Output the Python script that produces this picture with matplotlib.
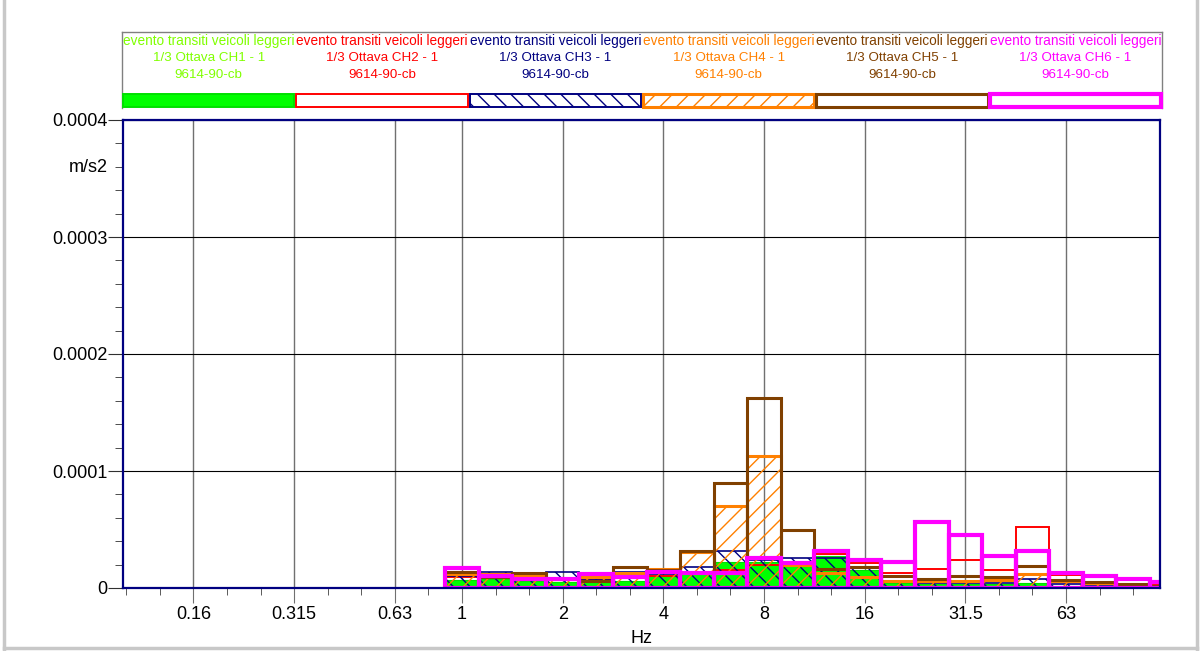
import numpy as np, matplotlib
matplotlib.use("Agg")
import matplotlib.pyplot as plt
from matplotlib.patches import Rectangle
from matplotlib.lines import Line2D

plt.rcParams["font.family"] = ["Liberation Sans", "DejaVu Sans"]
plt.rcParams["hatch.linewidth"] = 1.0

# 1/3 octave bands (index 0 = 1 Hz); values in m/s2 * 1e-6
bands = ["1", "1.25", "1.6", "2", "2.5", "3.15", "4", "5", "6.3", "8", "10",
         "12.5", "16", "20", "25", "31.5", "40", "50", "63", "80", "100", "125"]
ch1 = [7, 8, 6, 5, 5, 6, 10, 13, 22, 22, 22, 27, 15, 4, 3, 3, 3, 4, 2, 2, 1, 1]
ch2 = [9, 11, 7, 8, 7, 10, 10, 12, 15, 20, 20, 29, 21, 13, 16, 24, 15, 52, 11, 9, 8, 3]
ch3 = [10, 14, 11, 14, 8, 14, 12, 18, 32, 24, 26, 26, 17, 5, 4, 4, 4, 8, 3, 2, 1, 1]
ch4 = [12, 12, 10, 8, 9, 13, 16, 31, 70, 113, 20, 13, 9, 6, 6, 6, 7, 12, 6, 4, 3, 2]
ch5 = [14, 9, 13, 8, 6, 18, 15, 32, 90, 162, 50, 16, 18, 10, 8, 10, 9, 19, 7, 5, 3, 2]
ch6 = [17, 10, 8, 8, 12, 9, 14, 13, 13, 26, 21, 32, 24, 22, 56, 45, 27, 32, 13, 10, 8, 5]

tick_labels = ["0.16", "0.315", "0.63", "1", "2", "4", "8", "16", "31.5", "63"]
tick_pos = [-8, -5, -2, 0, 3, 6, 9, 12, 15, 18]

legend_title = "evento transiti veicoli leggeri"
legend_names = ["1/3 Ottava CH%d - 1" % k for k in range(1, 7)]
legend_sub = "9614-90-cb"

# per channel style: text colour, face, edge, hatch, lw
styles = [
    dict(text="#80ff00", face="#00ff00", edge="#00e000", hatch=None, lw=0.8),
    dict(text="#ff0000", face="none", edge="#ff0000", hatch=None, lw=1.4),
    dict(text="#000080", face="none", edge="#000080", hatch="\\\\", lw=1.2),
    dict(text="#ff8000", face="none", edge="#ff8000", hatch="//", lw=2.2),
    dict(text="#804000", face="none", edge="#804000", hatch=None, lw=2.2),
    dict(text="#ff00ff", face="none", edge="#ff00ff", hatch=None, lw=3.0),
]
series = [ch1, ch2, ch3, ch4, ch5, ch6]

W, H = 1202, 651
fig = plt.figure(figsize=(W / 100, H / 100), dpi=100)
ax = fig.add_axes([123 / W, 1 - 588 / H, (1160 - 123) / W, (588 - 120) / H])

x = np.arange(len(bands))
for k, (vals, st) in enumerate(zip(series, styles)):
    ax.bar(x, np.array(vals) * 1e-6, width=1.0, facecolor=st["face"],
           edgecolor=st["edge"], hatch=st["hatch"], linewidth=st["lw"],
           zorder=3 + k)

ax.set_xlim(-10.1, 20.8)
ax.set_ylim(0, 0.0004)
ax.set_xticks(tick_pos)
ax.set_xticklabels(tick_labels)
ax.set_xticks(np.arange(-10, 21), minor=True)
ax.set_yticks([0, 1e-4, 2e-4, 3e-4, 4e-4])
ax.set_yticklabels(["0", "0.0001", "0.0002", "0.0003", "0.0004"])
ax.set_yticks(np.arange(0, 4.01e-4, 2e-5), minor=True)
ax.tick_params(axis="x", which="major", length=11, color="#707070",
               labelsize=13, pad=2)
ax.tick_params(axis="x", which="minor", length=5, color="#404040")
ax.tick_params(axis="y", which="major", length=11, color="#303030",
               labelsize=13, pad=0)
ax.tick_params(axis="y", which="minor", length=6, color="#303030")
ax.grid(axis="x", which="major", color="#707070", lw=1.0)
ax.grid(axis="y", which="major", color="#000000", lw=0.8)
ax.set_axisbelow(True)
for s in ax.spines.values():
    s.set_color("#000080")
    s.set_linewidth(1.6)
    s.set_zorder(20)
ax.set_xlabel("Hz", fontsize=13, labelpad=5)
fig.text(108 / W, 1 - 167 / H, "m/s2", ha="right", va="center", fontsize=13)

# legend strip
lg = fig.add_axes([122 / W, 1 - 108 / H, 1040 / W, 76 / H])
lg.set_xlim(0, 6); lg.set_ylim(0, 1)
lg.set_xticks([]); lg.set_yticks([])
for s in lg.spines.values():
    s.set_color("#808080"); s.set_linewidth(1.0)
lg.spines["bottom"].set_visible(False)
for k, st in enumerate(styles):
    lg.text(k + 0.5, 0.88, legend_title, color=st["text"], ha="center",
            va="center", fontsize=9.8, clip_on=True)
    lg.text(k + 0.5, 0.66, legend_names[k], color=st["text"], ha="center",
            va="center", fontsize=9.6)
    lg.text(k + 0.5, 0.435, legend_sub, color=st["text"], ha="center",
            va="center", fontsize=9.6)
    lg.add_patch(Rectangle((k + 0.005, 0.01), 0.99, 0.18, facecolor=st["face"],
                           edgecolor=st["edge"], hatch=st["hatch"],
                           linewidth=max(st["lw"], 1.4), zorder=3 + k,
                           clip_on=False))

# outer light frame
for xs, ys in [([4 / W, 4 / W], [0, 1]), ([1197 / W, 1197 / W], [0, 1]),
               ([4 / W, 1197 / W], [3 / H, 3 / H])]:
    fig.add_artist(Line2D(xs, ys, color="#c8c8c8", lw=2.5))

fig.savefig("out.png", dpi=100)
